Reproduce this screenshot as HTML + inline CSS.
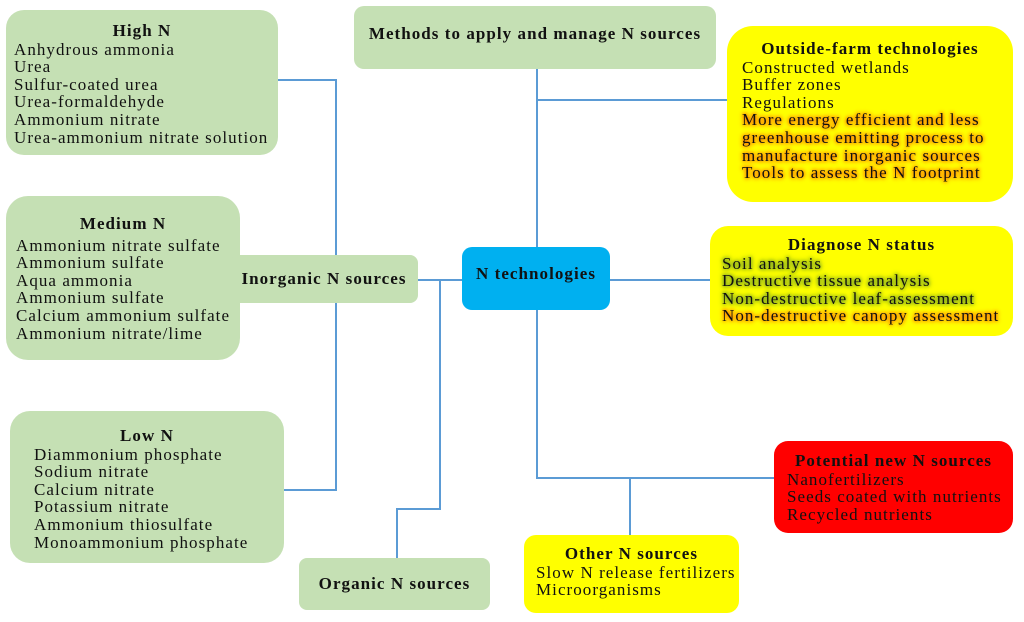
<!DOCTYPE html>
<html><head><meta charset="utf-8"><style>
body{margin:0;width:1024px;height:622px;background:#fff;position:relative;overflow:hidden;font-family:"Liberation Serif","DejaVu Serif",serif;color:#111}
.b{position:absolute;border-radius:18px;box-sizing:border-box;font-size:17px;letter-spacing:1.05px;line-height:17.6px;white-space:nowrap}
.g{background:#c5e0b4}
.y{background:#ffff00}
.t{font-weight:bold;text-align:center;margin-bottom:1px}
.c{display:flex;align-items:center;justify-content:center;font-weight:bold}
.l{position:absolute;background:#5b9bd5}
.o{text-shadow:0 0 3px #ff6a00,0 0 5px #ff8c00,0 0 6px #ff8c00}
.gr{text-shadow:0 0 3px #6a9a20,0 0 5px #7aa52a,0 0 6px #7aa52a}
</style></head><body>
<div class="l" style="left:278px;top:79px;width:59px;height:2px"></div>
<div class="l" style="left:335px;top:79px;width:2px;height:412px"></div>
<div class="l" style="left:284px;top:489px;width:53px;height:2px"></div>
<div class="l" style="left:418px;top:279px;width:44px;height:2px"></div>
<div class="l" style="left:439px;top:279px;width:2px;height:231px"></div>
<div class="l" style="left:396px;top:508px;width:45px;height:2px"></div>
<div class="l" style="left:396px;top:508px;width:2px;height:51px"></div>
<div class="l" style="left:536px;top:69px;width:2px;height:178px"></div>
<div class="l" style="left:536px;top:99px;width:191px;height:2px"></div>
<div class="l" style="left:610px;top:279px;width:100px;height:2px"></div>
<div class="l" style="left:536px;top:310px;width:2px;height:169px"></div>
<div class="l" style="left:536px;top:477px;width:238px;height:2px"></div>
<div class="l" style="left:629px;top:477px;width:2px;height:58px"></div>

<div class="b g" style="left:6px;top:10px;width:272px;height:145px;padding:12px 0 0 8px">
<div class="t" style="margin-right:8px">High N</div>Anhydrous ammonia<br>Urea<br>Sulfur-coated urea<br>Urea-formaldehyde<br>Ammonium nitrate<br>Urea-ammonium nitrate solution</div>
<div class="b g c" style="left:354px;top:6px;width:362px;height:55px;border-radius:10px;height:63px;padding-bottom:8px">Methods to apply and manage N sources</div>
<div class="b y" style="left:727px;top:26px;width:286px;height:176px;padding:14px 0 0 15px;border-radius:26px">
<div class="t" style="margin-right:15px">Outside-farm technologies</div>Constructed wetlands<br>Buffer zones<br>Regulations<br><span class="o">More energy efficient and less<br>greenhouse emitting process to<br>manufacture inorganic sources<br>Tools to assess the N footprint</span></div>
<div class="b g" style="left:6px;top:196px;width:234px;height:164px;padding:19px 0 0 10px;border-radius:22px">
<div class="t" style="margin-right:10px;margin-bottom:4px">Medium N</div>Ammonium nitrate sulfate<br>Ammonium sulfate<br>Aqua ammonia<br>Ammonium sulfate<br>Calcium ammonium sulfate<br>Ammonium nitrate/lime</div>
<div class="b g c" style="left:230px;top:255px;width:188px;height:48px;border-radius:8px">Inorganic N sources</div>
<div class="b c" style="left:462px;top:247px;width:148px;height:63px;background:#00b0f0;border-radius:10px;padding-bottom:10px">N technologies</div>
<div class="b y" style="left:710px;top:226px;width:303px;height:110px;padding:10px 0 0 12px">
<div class="t" style="margin-right:12px">Diagnose N status</div><span class="gr">Soil analysis<br>Destructive tissue analysis<br>Non-destructive leaf-assessment</span><br><span class="o">Non-destructive canopy assessment</span></div>
<div class="b g" style="left:10px;top:411px;width:274px;height:152px;padding:16px 0 0 24px;border-radius:20px">
<div class="t" style="margin-right:24px">Low N</div>Diammonium phosphate<br>Sodium nitrate<br>Calcium nitrate<br>Potassium nitrate<br>Ammonium thiosulfate<br>Monoammonium phosphate</div>
<div class="b" style="left:774px;top:441px;width:239px;height:92px;background:#ff0000;padding:11px 0 0 13px;border-radius:14px">
<div class="t" style="margin-right:13px">Potential new N sources</div>Nanofertilizers<br>Seeds coated with nutrients<br>Recycled nutrients</div>
<div class="b g c" style="left:299px;top:558px;width:191px;height:52px;border-radius:8px">Organic N sources</div>
<div class="b y" style="left:524px;top:535px;width:215px;height:78px;padding:10px 0 0 12px;border-radius:12px">
<div class="t" style="margin-right:12px">Other N sources</div>Slow N release fertilizers<br>Microorganisms</div>
</body></html>
